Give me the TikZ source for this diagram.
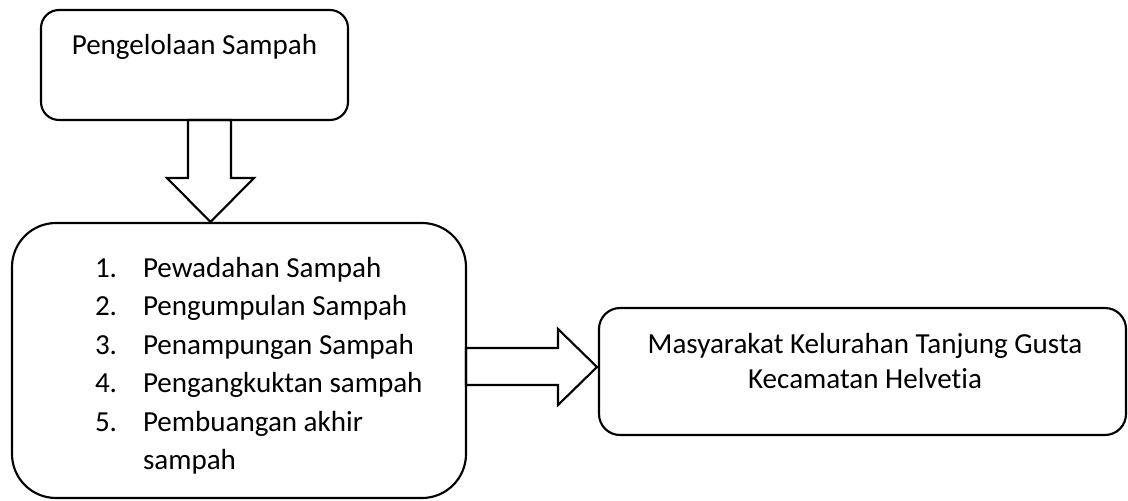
\documentclass[tikz,border=0pt]{standalone}
\usepackage{fontspec}
\setmainfont{Carlito}[Ligatures=NoCommon]
\usetikzlibrary{calc}
\begin{document}
\begin{tikzpicture}[x=0.75pt,y=-0.75pt,
  box/.style={draw, line width=1.6pt, inner sep=0pt, outer sep=0pt},
  lbl/.style={inner sep=0pt, outer sep=0pt, font=\fontsize{21.8pt}{26pt}\selectfont},
  blockarrow/.style={draw, line width=1.6pt, line join=miter}]
\useasboundingbox (0,0) rectangle (1128,500);
% boxes
\node[box, rounded corners=13.5pt, minimum width=230.25pt, minimum height=82.5pt] (top) at (194.5,65) {};
\node[box, rounded corners=33pt, minimum width=340.5pt, minimum height=206.25pt] (big) at (239,360.5) {};
\node[box, rounded corners=15.75pt, minimum width=395.25pt, minimum height=95.25pt] (res) at (862.5,371.5) {};
% texts
\node[lbl, anchor=base] (ttop) at (194.5,54) {Pengelolaan Sampah};
\node[lbl, anchor=base west] (n1) at (95,277) {1.};
\node[lbl, anchor=base west] (t1) at (143,277) {Pewadahan Sampah};
\node[lbl, anchor=base west] (n2) at (95,315.5) {2.};
\node[lbl, anchor=base west] (t2) at (143,315.5) {Pengumpulan Sampah};
\node[lbl, anchor=base west] (n3) at (95,354) {3.};
\node[lbl, anchor=base west] (t3) at (143,354) {Penampungan Sampah};
\node[lbl, anchor=base west] (n4) at (95,392.5) {4.};
\node[lbl, anchor=base west] (t4) at (143,392.5) {Pengangkuktan sampah};
\node[lbl, anchor=base west] (n5) at (95,431) {5.};
\node[lbl, anchor=base west] (t5) at (143,431) {Pembuangan akhir};
\node[lbl, anchor=base west] (t6) at (143,469.5) {sampah};
\node[lbl, anchor=base] (r1) at (865,353) {Masyarakat Kelurahan Tanjung Gusta};
\node[lbl, anchor=base] (r2) at (865,388) {Kecamatan Helvetia};
% down block arrow
\draw[blockarrow] ($(top.south)+(-6.5,0)$) -- ($(top.south)+(-6.5,58)$)
  -- ($(top.south)+(-27.5,58)$) -- ($(big.north -| top.south)+(16,-1)$)
  -- ($(top.south)+(59.5,58)$) -- ($(top.south)+(36.5,58)$)
  -- ($(top.south)+(36.5,0)$) -- cycle;
% right block arrow
\draw[blockarrow] ($(big.east)+(0,-12.5)$) -- ($(big.east)+(92,-12.5)$)
  -- ($(big.east)+(92,-31.5)$) -- ($(res.west |- big.east)+(-2,6.5)$)
  -- ($(big.east)+(92,44.5)$) -- ($(big.east)+(92,24.5)$)
  -- ($(big.east)+(0,24.5)$) -- cycle;
\end{tikzpicture}
\end{document}
